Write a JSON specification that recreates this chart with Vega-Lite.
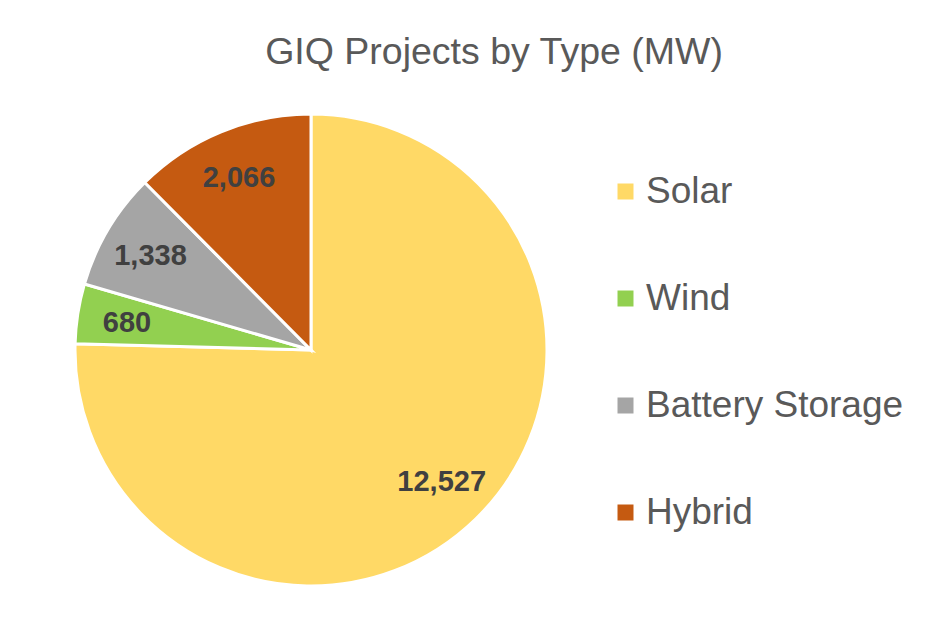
{
  "$schema": "https://vega.github.io/schema/vega-lite/v6.json",
  "width": 480,
  "height": 480,
  "autosize": {"type": "none"},
  "padding": {"left": 71, "top": 110, "right": 401, "bottom": 51},
  "background": "white",
  "title": {
    "text": "GIQ Projects by Type (MW)",
    "anchor": "middle",
    "dx": 183,
    "baseline": "alphabetic",
    "offset": 7,
    "font": "Liberation Sans",
    "fontSize": 37.5,
    "fontWeight": "normal",
    "color": "#595959"
  },
  "data": {
    "values": [
      {"type": "Solar", "mw": 12527},
      {"type": "Wind", "mw": 680},
      {"type": "Battery Storage", "mw": 1338},
      {"type": "Hybrid", "mw": 2066}
    ]
  },
  "encoding": {
    "theta": {
      "field": "mw",
      "type": "quantitative",
      "stack": true,
      "scale": {"range": [-1.28758, 4.99561]}
    }
  },
  "layer": [
    {
      "mark": {"type": "arc", "outerRadius": 236, "stroke": "white", "strokeWidth": 3},
      "encoding": {
        "color": {
          "field": "type",
          "type": "nominal",
          "scale": {
            "domain": ["Solar", "Wind", "Battery Storage", "Hybrid"],
            "range": ["#FFD966", "#92D050", "#A5A5A5", "#C55A11"]
          },
          "legend": {
            "title": null,
            "orient": "none",
            "legendX": 536,
            "legendY": 63,
            "padding": 0,
            "symbolType": "square",
            "symbolSize": 256,
            "symbolStrokeWidth": 0,
            "labelFont": "Liberation Sans",
            "labelFontSize": 37,
            "labelColor": "#595959",
            "labelOffset": 2,
            "rowPadding": 69,
            "labelLimit": 400
          }
        }
      }
    },
    {
      "mark": {
        "type": "text",
        "radius": 186,
        "thetaOffset": -0.2638,
        "font": "Liberation Sans",
        "fontSize": 29,
        "fontWeight": "bold",
        "color": "#404040"
      },
      "encoding": {
        "detail": {"field": "type", "type": "nominal"},
        "text": {"field": "mw", "type": "quantitative", "format": ","}
      }
    }
  ],
  "config": {"view": {"stroke": null}}
}
